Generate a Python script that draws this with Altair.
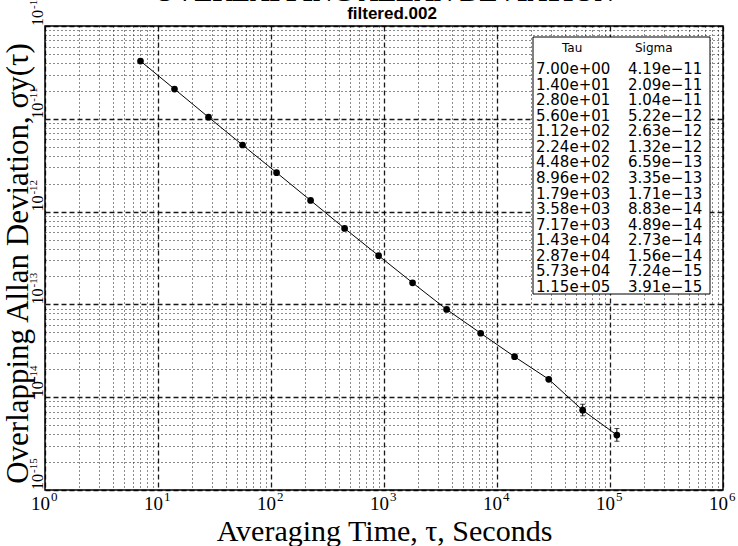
import altair as alt
import pandas as pd

# ---- data ----
tau = [7.00e+00, 1.40e+01, 2.80e+01, 5.60e+01, 1.12e+02, 2.24e+02, 4.48e+02,
       8.96e+02, 1.79e+03, 3.58e+03, 7.17e+03, 1.43e+04, 2.87e+04, 5.73e+04, 1.15e+05]
sigma = [4.19e-11, 2.09e-11, 1.04e-11, 5.22e-12, 2.63e-12, 1.32e-12, 6.59e-13,
         3.35e-13, 1.71e-13, 8.83e-14, 4.89e-14, 2.73e-14, 1.56e-14, 7.24e-15, 3.91e-15]
err_tau = [5.73e+04, 1.15e+05]
err_lo = [6.3e-15, 3.35e-15]
err_hi = [8.4e-15, 4.6e-15]

x_decades = [1e0, 1e1, 1e2, 1e3, 1e4, 1e5, 1e6]
x_exponents = ["0", "1", "2", "3", "4", "5", "6"]
y_decades = [1e-15, 1e-14, 1e-13, 1e-12, 1e-11, 1e-10]
y_exponents = ["-15", "-14", "-13", "-12", "-11", "-10"]
label_base = "10"
multipliers = [1, 2, 3, 4, 5, 6, 7, 8, 9]

title_text = "OVERLAPPING ALLAN DEVIATION"
subtitle_text = "filtered.002"
x_title = "Averaging Time, τ, Seconds"
y_title = "Overlapping Allan Deviation, σy(τ)"
table_headers = ["Tau", "Sigma"]

# ---- build tables ----
df = pd.DataFrame({"tau": tau, "sigma": sigma})
err_df = pd.DataFrame({"tau": err_tau, "lo": err_lo, "hi": err_hi})
tab = pd.DataFrame({
    "i": list(range(len(tau))),
    "tau_s": [f"{v:.2e}" for v in tau],
    "sigma_s": [f"{v:.2e}".replace("-", "−") for v in sigma],
})
xlab = pd.DataFrame({"v": x_decades, "e": x_exponents})
ylab = pd.DataFrame({"v": y_decades, "e": y_exponents})
one = pd.DataFrame({"k": [0]})

x_vals = [d * m for d in x_decades[:-1] for m in multipliers] + [x_decades[-1]]
y_vals = [d * m for d in y_decades[:-1] for m in multipliers] + [y_decades[-1]]

isdec = "abs(log(datum.value)/LN10 - round(log(datum.value)/LN10)) < 0.01"
grid_dash = {"condition": {"test": isdec, "value": [5, 3]}, "value": [1, 3]}
grid_width = {"condition": {"test": isdec, "value": 1.3}, "value": 1}

SERIF = "Liberation Serif"
W, H = 678, 464

x_axis = alt.Axis(
    values=x_vals, labels=False, grid=True, gridColor="black",
    gridDash=grid_dash, gridWidth=grid_width, gridOpacity=0.9,
    ticks=False, tickSize=0, domain=False,
    title=x_title, titleFont=SERIF, titleFontSize=30, titleFontWeight="normal",
    titleColor="black", titleX=W / 2, titleY=50, titleBaseline="alphabetic",
    titleAlign="center",
)
y_axis = alt.Axis(
    values=y_vals, labels=False, grid=True, gridColor="black",
    gridDash=grid_dash, gridWidth=grid_width, gridOpacity=0.9,
    ticks=False, tickSize=0, domain=False,
    title=y_title, titleFont=SERIF, titleFontSize=31, titleFontWeight="normal",
    titleColor="black", titleAngle=270, titleX=-18, titleY=237,
    titleAlign="center", titleBaseline="alphabetic",
)

xs = alt.Scale(type="log", domain=[1, 1e6], nice=False)
ys = alt.Scale(type="log", domain=[1e-15, 1e-10], nice=False)

line = alt.Chart(df).mark_line(color="black", strokeWidth=1).encode(
    x=alt.X("tau:Q", scale=xs, axis=x_axis),
    y=alt.Y("sigma:Q", scale=ys, axis=y_axis),
)
pts = alt.Chart(df).mark_circle(color="black", size=45, opacity=1).encode(
    x=alt.X("tau:Q", scale=xs, axis=x_axis),
    y=alt.Y("sigma:Q", scale=ys, axis=y_axis),
)
errs = alt.Chart(err_df).mark_errorbar(ticks=True, color="black").encode(
    x=alt.X("tau:Q", scale=xs, axis=x_axis),
    y=alt.Y("lo:Q", scale=ys, axis=y_axis),
    y2="hi:Q",
)

# tick labels 10^n drawn as base + raised exponent
x_base = alt.Chart(xlab).mark_text(font=SERIF, fontSize=19, align="right", baseline="alphabetic",
                                   dx=5, color="black", text=label_base).encode(
    x=alt.X("v:Q", scale=xs, axis=x_axis), y=alt.value(H + 20))
x_exp = alt.Chart(xlab).mark_text(font=SERIF, fontSize=13, align="left", baseline="alphabetic",
                                  dx=6, dy=-9, color="black").encode(
    x=alt.X("v:Q", scale=xs, axis=x_axis), y=alt.value(H + 20), text="e:N")
y_base = alt.Chart(ylab).mark_text(font=SERIF, fontSize=16, align="left", baseline="alphabetic",
                                   angle=270, color="black", text=label_base).encode(
    x=alt.value(-2), y=alt.Y("v:Q", scale=ys, axis=y_axis))
y_exp = alt.Chart(ylab).mark_text(font=SERIF, fontSize=11, align="left", baseline="alphabetic",
                                  angle=270, dx=17, dy=-6, color="black").encode(
    x=alt.value(-2), y=alt.Y("v:Q", scale=ys, axis=y_axis), text="e:N")

main = alt.layer(line, errs, pts, x_base, x_exp, y_base, y_exp)

# ---- table box (legend) ----
box = alt.Chart(one).mark_rect(fill="white", stroke="black", strokeWidth=1).encode(
    x=alt.value(488), x2=alt.value(665), y=alt.value(11), y2=alt.value(268)
)
row_y = alt.Y("i:O", axis=None, scale=alt.Scale(type="point", range=[43, 261], padding=0))
tau_txt = alt.Chart(tab).mark_text(align="left", baseline="middle", font="DejaVu Sans",
                                   fontSize=15, color="black").encode(
    x=alt.value(491), y=row_y, text="tau_s:N")
sig_txt = alt.Chart(tab).mark_text(align="left", baseline="middle", font="DejaVu Sans",
                                   fontSize=15, color="black").encode(
    x=alt.value(583), y=row_y, text="sigma_s:N")
hdr1 = alt.Chart(one).mark_text(align="left", baseline="middle", font="DejaVu Sans",
                                fontSize=12, color="black", text=table_headers[0]).encode(
    x=alt.value(517), y=alt.value(22))
hdr2 = alt.Chart(one).mark_text(align="left", baseline="middle", font="DejaVu Sans",
                                fontSize=12, color="black", text=table_headers[1]).encode(
    x=alt.value(590), y=alt.value(22))
big_title = alt.Chart(one).mark_text(align="center", baseline="alphabetic", font=SERIF,
                                     fontSize=27, fontWeight="bold", color="black",
                                     text=title_text).encode(
    x=alt.value(W / 2), y=alt.value(-25))
sub_title = alt.Chart(one).mark_text(align="center", baseline="alphabetic", font="Liberation Sans",
                                     fontSize=17, fontWeight="bold", color="black",
                                     text=subtitle_text).encode(
    x=alt.value(W / 2 + 8), y=alt.value(-7))

annot = alt.layer(box, tau_txt, sig_txt, hdr1, hdr2, big_title, sub_title)

chart = alt.layer(main, annot).resolve_scale(x="independent", y="independent").properties(
    width=W, height=H,
    autosize=alt.AutoSizeParams(type="none"),
    padding={"left": 45, "top": 26, "right": 15, "bottom": 56},
    background="white",
).configure_view(stroke="black", strokeWidth=1.5)

chart.save("out.html", embed_options={"renderer": "svg", "actions": False})
